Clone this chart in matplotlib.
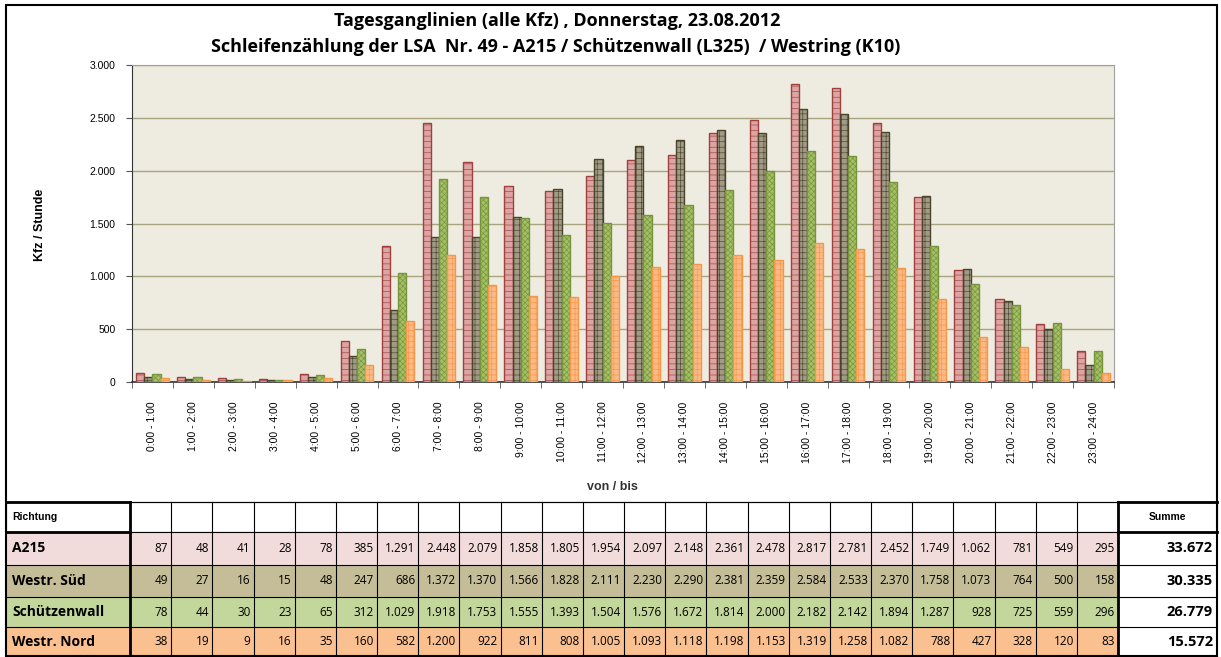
import numpy as np
import matplotlib
matplotlib.use("Agg")
import matplotlib.pyplot as plt
from matplotlib.patches import Rectangle

# Daten (Kfz pro Stunde)
hours = ["0:00 - 1:00", "1:00 - 2:00", "2:00 - 3:00", "3:00 - 4:00", "4:00 - 5:00",
         "5:00 - 6:00", "6:00 - 7:00", "7:00 - 8:00", "8:00 - 9:00", "9:00 - 10:00",
         "10:00 - 11:00", "11:00 - 12:00", "12:00 - 13:00", "13:00 - 14:00",
         "14:00 - 15:00", "15:00 - 16:00", "16:00 - 17:00", "17:00 - 18:00",
         "18:00 - 19:00", "19:00 - 20:00", "20:00 - 21:00", "21:00 - 22:00",
         "22:00 - 23:00", "23:00 - 24:00"]

names = ["A215", "Westr. Süd", "Schützenwall", "Westr. Nord"]

a215 = [87, 48, 41, 28, 78, 385, 1291, 2448, 2079, 1858, 1805, 1954,
        2097, 2148, 2361, 2478, 2817, 2781, 2452, 1749, 1062, 781, 549, 295]
westr_sued = [49, 27, 16, 15, 48, 247, 686, 1372, 1370, 1566, 1828, 2111,
              2230, 2290, 2381, 2359, 2584, 2533, 2370, 1758, 1073, 764, 500, 158]
schuetzenwall = [78, 44, 30, 23, 65, 312, 1029, 1918, 1753, 1555, 1393, 1504,
                 1576, 1672, 1814, 2000, 2182, 2142, 1894, 1287, 928, 725, 559, 296]
westr_nord = [38, 19, 9, 16, 35, 160, 582, 1200, 922, 811, 808, 1005,
              1093, 1118, 1198, 1153, 1319, 1258, 1082, 788, 427, 328, 120, 83]
summen = [33672, 30335, 26779, 15572]

series = [a215, westr_sued, schuetzenwall, westr_nord]

bar_fill = ["#DCA5A4", "#A09A86", "#A3C065", "#F9BA88"]
bar_edge = ["#A0403E", "#4A452A", "#77933C", "#F79646"]
hatches = ["---", "+++", "xxxxxx", "+++"]
row_bg = ["#F2DCDB", "#C4BD97", "#C3D69B", "#FAC090"]


def de(n):
    return f"{n:,}".replace(",", ".")


plt.rcParams['font.family'] = ['Liberation Sans', 'DejaVu Sans']
plt.rcParams['hatch.linewidth'] = 0.45

W, H = 1221, 657
fig = plt.figure(figsize=(W / 100, H / 100), dpi=100)

# Diagramm
ax = fig.add_axes([132 / W, 1 - 382 / H, (1114 - 132) / W, (382 - 65) / H])
ax.set_facecolor("#EEECE1")
x = np.arange(len(hours))
bw = 0.2
for i, vals in enumerate(series):
    ax.bar(x + (i - 1.5) * bw, vals, width=bw, color=bar_fill[i],
           edgecolor=bar_edge[i], linewidth=1.0, hatch=hatches[i], zorder=3)

ax.set_xlim(-0.5, len(hours) - 0.5)
ax.set_ylim(0, 3000)
ax.set_yticks(np.arange(0, 3001, 500))
ax.set_yticklabels([de(v) for v in range(0, 3001, 500)], fontsize=7.5)
ax.yaxis.grid(True, color="#A8A47E", linewidth=1, zorder=0)
ax.tick_params(axis="y", length=4, color="#555555", pad=8)
ax.set_xticks(x)
ax.set_xticklabels(hours, rotation=90, fontsize=7.5)
ax.set_xticks(np.arange(-0.5, len(hours), 1), minor=True)
ax.tick_params(axis="x", which="major", length=0, pad=14)
ax.tick_params(axis="x", which="minor", length=4, color="#555555")
for s in ["top", "right"]:
    ax.spines[s].set_color("#A0A0A0")
ax.spines["left"].set_color("#333333")
ax.spines["bottom"].set_color("#333333")
ax.spines["bottom"].set_linewidth(1.2)

fig.text(40 / W, 1 - 225 / H, "Kfz / Stunde", rotation=90, fontsize=9,
         fontweight="bold", ha="center", va="center")
fig.text(612 / W, 1 - 487 / H, "von / bis", fontsize=9, fontweight="bold",
         ha="center", va="center", color="#333333")
fig.text(557 / W, 1 - 21 / H, "Tagesganglinien (alle Kfz) , Donnerstag, 23.08.2012",
         fontsize=13, fontweight="bold", ha="center", va="center",
         family=["Open Sans", "DejaVu Sans"])
fig.text(556 / W, 1 - 47 / H,
         "Schleifenzählung der LSA  Nr. 49 - A215 / Schützenwall (L325)  / Westring (K10)",
         fontsize=13, fontweight="bold", ha="center", va="center",
         family=["Open Sans", "DejaVu Sans"])

# Tabelle unten, in Pixelkoordinaten
tab = fig.add_axes([0, 0, 1, 1])
tab.set_xlim(0, W)
tab.set_ylim(H, 0)
tab.axis("off")
tab.patch.set_alpha(0)

col0, col1 = 6, 130
col_end = 1118
sum_end = 1217
n = len(hours)
cw = (col_end - col1) / n
row_y = [502, 532, 565, 597, 627, 656]

# Kopfzeile
tab.add_patch(Rectangle((col0, row_y[0]), sum_end - col0, row_y[1] - row_y[0],
                        facecolor="white", edgecolor="black", lw=0.8))
tab.text(col0 + 6, (row_y[0] + row_y[1]) / 2, "Richtung", fontsize=7.5,
         fontweight="bold", va="center", ha="left")
tab.text((col_end + sum_end) / 2, (row_y[0] + row_y[1]) / 2, "Summe", fontsize=7.5,
         fontweight="bold", va="center", ha="center")

for r, vals in enumerate(series):
    y0, y1 = row_y[r + 1], row_y[r + 2]
    ym = (y0 + y1) / 2
    tab.add_patch(Rectangle((col0, y0), col_end - col0, y1 - y0,
                            facecolor=row_bg[r], edgecolor="none"))
    tab.text(col0 + 6, ym, names[r], fontsize=10, fontweight="bold", va="center",
             ha="left", family=["Open Sans", "DejaVu Sans"])
    for c, v in enumerate(vals):
        tab.text(col1 + (c + 1) * cw - 3, ym, de(v), fontsize=8.5, va="center",
                 ha="right", family=["Open Sans", "DejaVu Sans"])
    tab.text(sum_end - 4, ym, de(summen[r]), fontsize=10.5, fontweight="bold",
             va="center", ha="right", family=["Open Sans", "DejaVu Sans"])

# Gitterlinien der Tabelle
for yy in row_y:
    tab.plot([col0, sum_end], [yy, yy], color="black", lw=0.8)
for c in range(n + 1):
    xx = col1 + c * cw
    tab.plot([xx, xx], [row_y[0], row_y[-1]], color="black", lw=0.8)
tab.plot([col1, col1], [row_y[0], row_y[-1]], color="black", lw=2)
tab.plot([col_end, col_end], [row_y[0], row_y[-1]], color="black", lw=2)
tab.plot([col0, col1], [row_y[1], row_y[1]], color="black", lw=2)
tab.plot([col_end, sum_end], [row_y[1], row_y[1]], color="black", lw=2)
tab.plot([col0, col1], [row_y[0], row_y[0]], color="black", lw=2)
tab.plot([col_end, sum_end], [row_y[0], row_y[0]], color="black", lw=2)

# Rahmen
tab.add_patch(Rectangle((col0, 5), sum_end - col0, row_y[-1] - 5,
                        facecolor="none", edgecolor="black", lw=1.5))

fig.savefig("out.png", dpi=100)
